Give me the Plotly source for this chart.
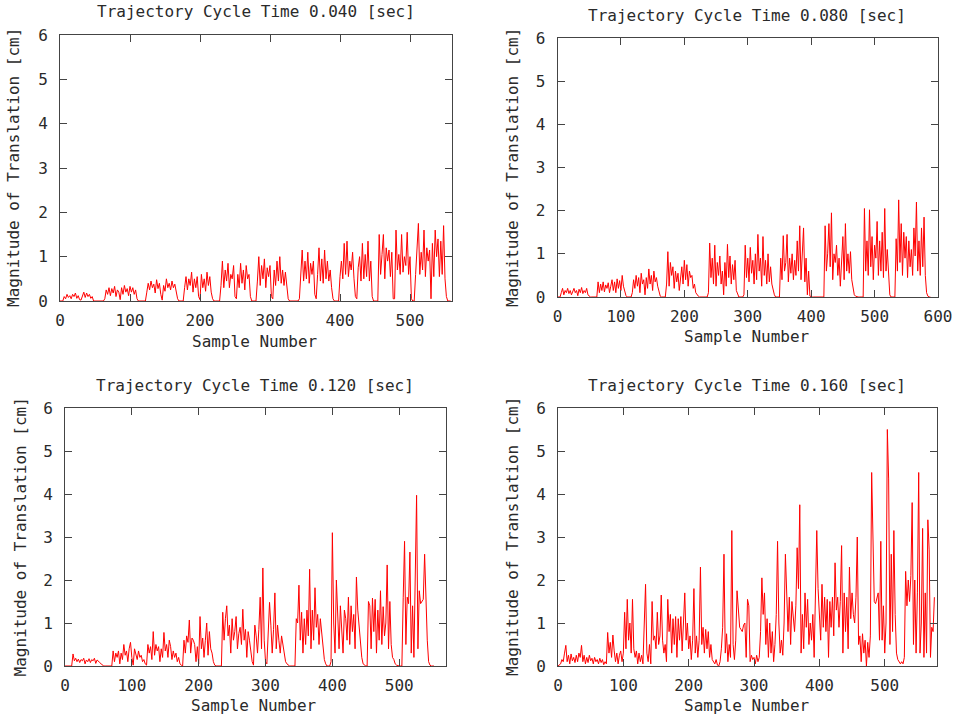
import plotly.graph_objects as go

W, H = 962, 715

titles = ["Trajectory Cycle Time 0.040 [sec]", "Trajectory Cycle Time 0.080 [sec]",
          "Trajectory Cycle Time 0.120 [sec]", "Trajectory Cycle Time 0.160 [sec]"]
x_label = "Sample Number"
y_label = "Magnitude of Translation [cm]"
x_ranges = [[0, 560], [0, 600], [0, 570], [0, 580]]
x_ticks = [[0, 100, 200, 300, 400, 500], [0, 100, 200, 300, 400, 500, 600],
           [0, 100, 200, 300, 400, 500], [0, 100, 200, 300, 400, 500]]
y_ticks = [0, 1, 2, 3, 4, 5, 6]
sample_step = 2  # one value read every second sample

p040 = [0, 0, 0,
        0.1, 0.05, 0.15, 0.08, 0.12, 0.05, 0.15, 0.1, 0.18, 0.06, 0.12, 0.03,
        0.02,
        0.12, 0.2, 0.08, 0.18, 0.1, 0.15, 0.06, 0.1,
        0, 0, 0, 0, 0, 0, 0, 0,
        0.05, 0.25, 0.15, 0.3, 0.12, 0.28, 0.18, 0.33, 0.1, 0.25, 0.2,
        0.03,
        0.3, 0.15, 0.35, 0.2, 0.28, 0.12, 0.33, 0.2, 0.3, 0.15, 0.25, 0.05,
        0, 0, 0, 0, 0, 0,
        0.2, 0.4, 0.25, 0.45, 0.3, 0.38, 0.18, 0.48, 0.28, 0.4, 0.15,
        0.02,
        0.35, 0.22, 0.5, 0.3, 0.4, 0.25, 0.45, 0.3, 0.38, 0.2, 0.05,
        0, 0, 0, 0,
        0.3, 0.55, 0.25, 0.5, 0.35, 0.65, 0.2, 0.5, 0.3, 0.55, 0.1,
        0.03,
        0.6, 0.3, 0.5, 0.22, 0.65, 0.35, 0.55, 0.2, 0.05,
        0, 0, 0, 0, 0,
        0.35, 0.9, 0.3, 0.7, 0.45, 0.85, 0.3, 0.6, 0.5, 0.8, 0.1,
        0.05,
        0.6, 0.3, 0.85, 0.4, 0.7, 0.25, 0.8, 0.5, 0.6, 0.1,
        0, 0, 0, 0,
        0.45, 1.0, 0.35, 0.8, 0.5, 0.95, 0.3, 0.75, 0.55, 0.8, 0.1,
        0.05,
        0.7, 0.35, 0.9, 0.45, 1.0, 0.4, 0.7, 0.35, 0.65, 0.3, 0.05,
        0, 0, 0, 0, 0, 0, 0,
        0.05, 0.65, 1.15, 0.45, 0.9, 0.5, 1.1, 0.4, 0.85, 0.6, 0.9, 0.15,
        0.05,
        0.6, 1.2, 0.45, 0.95, 0.4, 1.15, 0.5, 0.9, 0.45, 0.7, 0.3, 0.05,
        0, 0, 0, 0,
        0.55, 0.9, 0.5, 1.3, 0.6, 1.35, 0.55, 0.9, 0.7, 1.1, 0.5, 0.1,
        0.05,
        0.75, 1.0, 0.45, 1.3, 0.5, 1.05, 0.55, 1.35, 0.45, 0.9, 0.1,
        0, 0, 0, 0,
        1.5, 0.6, 1.05, 1.5, 0.5, 1.2, 0.9, 1.15, 0.55, 1.1, 0.05,
        0.05,
        1.6, 0.7, 1.05, 0.6, 1.5, 0.65, 1.0, 0.8, 1.55, 0.6, 1.0, 0.05,
        0, 0,
        0.6, 1.3, 1.75, 0.6, 1.1, 0.7, 1.6, 0.55, 1.2, 0.9, 1.15, 0.05,
        1.3, 0.55, 1.6, 1.0, 1.4, 0.55, 1.35, 0.6, 1.7, 0.5, 0.1,
        0, 0, 0]

p080 = [0, 0, 0,
        0.1, 0.2, 0.05, 0.15, 0.1, 0.2, 0.08, 0.15, 0.05, 0.12, 0.2, 0.1, 0.15, 0.03, 0.18, 0.1, 0.22,
        0.08, 0.15, 0.1, 0.2, 0.05, 0.02,
        0, 0, 0, 0, 0, 0,
        0.35, 0.1, 0.3, 0.15, 0.35, 0.12, 0.28, 0.2, 0.33, 0.1, 0.25, 0.4, 0.15, 0.35, 0.1, 0.42,
        0.2, 0.38, 0.15, 0.5, 0.25, 0.1, 0.03,
        0, 0, 0, 0,
        0.1, 0.4, 0.2, 0.5, 0.25, 0.45, 0.1, 0.55, 0.3, 0.4, 0.05, 0.45, 0.2, 0.65, 0.3, 0.5,
        0.15, 0.6, 0.35, 0.45, 0.25, 0.1, 0.02,
        0, 0, 0, 0,
        0.3, 1.05, 0.25, 0.8, 0.5, 0.7, 0.2, 0.6, 0.35, 0.55, 0.15, 0.45, 0.7, 0.3, 0.85, 0.4,
        0.75, 0.25, 0.6, 0.45, 0.5, 0.2, 0.3, 0.1, 0.05, 0.02,
        0, 0, 0, 0, 0, 0, 0,
        0.1, 1.25, 0.45, 0.9, 0.3, 1.2, 0.25, 0.8, 0.5, 0.95, 0.3, 0.6, 0.05, 0.8, 0.25, 1.22,
        0.45, 0.95, 0.3, 0.75, 0.4, 0.85, 0.15, 0.05,
        0, 0, 0, 0,
        0.05, 1.2, 0.45, 0.9, 0.35, 1.15, 0.55, 0.85, 0.3, 1.0, 0.4, 1.45, 0.6, 0.9, 0.25, 1.4,
        0.5, 0.85, 0.3, 1.0, 0.35, 0.7, 0.3, 0.15, 0.05,
        0, 0, 0, 0,
        0.9, 0.4, 1.42, 0.6, 0.8, 1.45, 0.35, 0.9, 0.55, 1.0, 0.4, 0.85, 0.5, 1.3, 0.6, 1.65,
        0.4, 0.9, 1.6, 0.35, 0.9, 0.05, 0.6, 0.02,
        0, 0, 0, 0, 0, 0, 0, 0, 0, 0, 0,
        1.65, 0.6, 1.0, 1.7, 0.7, 1.95, 0.4, 1.0, 0.8, 1.2, 0.5, 0.9, 0.25, 0.8, 1.4, 0.4,
        1.7, 0.6, 1.0, 0.55, 1.05, 0.4, 0.2, 0.05, 0.02,
        0, 0, 0, 0, 0, 0,
        2.05, 0.6, 1.3, 0.5, 2.02, 0.7, 1.4, 0.4, 1.2, 0.9, 1.75, 0.5, 1.3, 0.6, 1.5, 0.45,
        2.05, 0.6, 1.1, 0.4, 0.05,
        0, 0, 0, 0,
        1.35, 0.6, 2.25, 0.8, 1.7, 0.5, 1.5, 0.9, 1.4, 0.45, 1.3, 0.7, 1.1, 0.5, 1.6, 0.95,
        2.2, 0.6, 1.3, 0.5, 1.6, 0.7, 1.85, 0.5, 0.1, 0.02, 0.0,
        0]

p120 = [0, 0, 0, 0, 0, 0,
        0.28, 0.12, 0.18, 0.1, 0.16, 0.08, 0.15, 0.12, 0.18, 0.05, 0.14, 0.1, 0.17, 0.08, 0.15,
        0.12, 0.18, 0.06, 0.14, 0.1, 0.08, 0.05, 0.02,
        0, 0, 0, 0, 0, 0, 0,
        0.35, 0.1, 0.3, 0.2, 0.35, 0.05, 0.3, 0.15, 0.5, 0.25, 0.35, 0.1, 0.4, 0.55, 0.2, 0.02,
        0.4, 0.3, 0.15, 0.35, 0.2, 0.25, 0.1, 0.15, 0.05, 0.02,
        0.5, 0.3, 0.45, 0.15, 0.8, 0.25, 0.5, 0.35, 0.45, 0.1, 0.4, 0.2, 0.78, 0.35, 0.5, 0.2,
        0.6, 0.45, 0.15, 0.35, 0.2, 0.3, 0.1, 0.2, 0.05, 0.02,
        0,
        0.6, 0.3, 0.7, 0.55, 1.07, 0.3, 0.65, 0.6, 0.5, 0.1, 0.45, 0.05, 1.15, 0.4, 0.65, 0.2,
        0.6, 1.0, 0.25, 0.8, 0.4, 0.3, 0.1, 0.02,
        0, 0, 0, 0, 0,
        1.25, 0.6, 1.1, 1.4, 0.7, 0.95, 0.3, 1.1, 0.6, 0.8, 1.15, 0.4, 0.75, 0.9, 0.5, 1.32,
        0.6, 0.85, 0.2, 0.8, 0.6, 0.4, 0.1, 0.02,
        0.95, 0.7, 0.3, 0.85, 1.6, 0.4, 2.28, 0.6, 0.1, 0.05, 0.9, 1.48, 0.95, 0.3, 0.85, 1.7,
        0.4, 0.95, 0.6, 0.3, 0.7, 0.5, 0.2, 0.1, 0.05, 0.02, 0.0,
        0, 0, 0, 0,
        1.1, 1.0, 1.88, 0.6, 1.25, 0.3, 1.1, 0.5, 1.3, 0.7, 2.25, 0.4, 1.3, 0.6, 1.82, 0.9,
        1.2, 0.5, 1.1, 0.8, 0.4, 0.15, 0.05,
        0, 0, 0,
        0.1, 3.1, 1.0, 0.3, 2.0, 1.2, 0.4, 1.4, 0.8, 0.3, 1.3, 1.1, 0.6, 1.6, 0.5, 1.4,
        0.8, 1.2, 0.4, 2.07, 1.3, 0.9, 0.5, 0.2, 0.05, 0.02,
        0, 0,
        1.5, 1.4, 0.4, 1.58, 0.8, 1.55, 0.3, 1.3, 0.6, 1.75, 0.5, 1.38, 0.7, 1.0, 2.35, 0.4,
        1.5, 0.5, 0.2, 0.15, 0.05, 0.02, 0.0,
        0, 0, 0,
        1.6, 2.9, 0.5, 1.6, 1.45, 2.65, 0.3, 1.4, 0.2, 2.75, 3.97, 0.4, 1.75, 1.45, 1.5, 1.55,
        2.6, 1.55, 0.6, 0.1, 0.02,
        0, 0, 0]

p160 = [0.0, 0.02, 0.05,
        0.15, 0.1, 0.3, 0.48,
        0.1, 0.25, 0.05, 0.28, 0.12, 0.2, 0.08, 0.25, 0.1, 0.3, 0.2, 0.48,
        0.1, 0.25, 0.05, 0.2, 0.08, 0.25, 0.12, 0.18, 0.05, 0.2, 0.1, 0.15, 0.05, 0.18, 0.08,
        0.15, 0.03, 0.1, 0.05,
        0.78, 0.3, 0.55, 0.2, 0.72, 0.35, 0.1, 0.3, 0.05, 0.25, 0.35, 0.1, 0.3,
        1.25, 0.4, 1.55, 0.6, 1.0, 0.3, 1.55,
        0.4, 0.2, 0.35, 0.05, 0.3, 0.1, 0.25, 0.05, 0.8,
        1.9, 0.3, 0.1, 0.5, 0.05, 1.5, 0.6, 0.7, 0.4, 1.25, 0.5, 0.7, 1.65, 0.6,
        0.3, 0.5, 0.1, 1.55, 0.8, 1.2, 0.3, 1.1, 0.5, 1.15, 0.2, 1.1, 0.6, 1.15, 0.35, 1.0,
        1.7, 0.6, 1.0, 0.4, 0.7, 0.15, 0.6, 1.8, 0.3, 0.7, 0.2, 0.6, 2.3,
        0.5, 0.9, 0.3, 0.85, 0.4, 0.8, 0.2, 0.5,
        0.15, 0.1, 0.05, 0.15, 0.02, 0.0, 0.1, 0.4, 0.9,
        2.6, 0.3, 0.75, 0.1, 0.5, 0.2, 3.15, 0.5, 0.15,
        0.6, 1.75, 1.2, 0.9, 0.85, 0.8, 0.95, 1.0, 0.2, 1.55,
        1.4, 0.1, 0.25, 0.15, 0.2, 0.05, 0.25, 0.1, 0.2, 0.8,
        2.05, 1.2, 1.7, 0.5, 1.1, 0.2, 1.0, 0.3, 0.8, 0.1, 0.5, 1.2,
        2.9, 1.0, 0.3, 0.6, 0.25, 1.0,
        2.6, 1.5, 0.8, 1.6, 0.5, 1.5, 1.2, 0.8, 1.4, 2.75,
        1.8, 3.75, 0.3, 1.2, 0.4, 1.7, 0.9, 1.55, 0.5,
        1.0, 0.6, 1.2, 0.2, 1.5, 3.15,
        1.8, 1.0, 0.6, 1.9, 0.9, 1.6, 0.8, 1.55, 0.2, 1.5, 0.9, 1.6, 0.7, 2.4,
        1.3, 1.6, 0.9, 1.5, 2.8, 0.3, 1.7, 0.8, 1.6, 0.4, 2.3,
        1.1, 1.7, 1.2, 1.0, 1.6, 3.0,
        0.5, 0.7, 0.1, 0.75, 0.3, 0.6, 0.0, 0.55, 0.2, 0.7,
        4.5, 3.1, 1.5, 1.45, 1.6, 1.7, 0.6,
        2.9, 0.6, 1.4, 0.3, 1.0, 5.5,
        4.35, 0.5, 2.6, 0.8, 3.15, 1.2, 0.3,
        0.15, 0.1, 0.05, 0.1, 0.05, 0.2,
        2.2, 1.4, 2.0, 1.5, 2.1, 3.8, 0.5, 2.0, 0.3, 1.7, 4.5,
        0.3, 1.0, 3.2, 0.2, 1.7, 0.3, 3.4, 2.7, 0.2, 0.9, 0.8, 1.6]

series = [p040, p080, p120, p160]

# ---------------- layout (pixel boxes of the four plot areas) ----------------
boxes = [(60, 452, 35, 301), (557.5, 938, 38, 297), (65, 446, 408, 666), (558, 937, 408, 666)]
title_pos = [(256, 11.5), (747, 15.5), (255, 385.5), (747, 385.5)]
xlab_pos = [(255, 341), (747, 336), (254, 705), (747, 705)]
ylab_pos = [(13, 168), (512, 168), (19.5, 537), (512, 537)]

FONT = "DejaVu Sans Mono"
TXT = "#2a2a2a"
AX = "#444444"

fig = go.Figure()
layout = dict(width=W, height=H, margin=dict(l=0, r=0, t=0, b=0, pad=0), autosize=False,
              template="none",
              paper_bgcolor="white", plot_bgcolor="white", showlegend=False)

annotations = []
for i, vals in enumerate(series):
    n = i + 1
    xs = [k * sample_step for k in range(len(vals))]
    fig.add_trace(go.Scatter(x=xs, y=vals, mode="lines",
                             line=dict(color="#ff0000", width=1),
                             xaxis=f"x{n}", yaxis=f"y{n}", hoverinfo="skip"))
    l, r, t, b = boxes[i]
    common = dict(showline=True, linecolor=AX, linewidth=1, mirror="ticks",
                  ticks="inside", ticklen=7, tickwidth=1, tickcolor=AX,
                  showgrid=False, zeroline=False, automargin=False,
                  tickfont=dict(family=FONT, size=16, color=TXT))
    layout[f"xaxis{n}"] = dict(domain=[l / W, r / W], anchor=f"y{n}",
                               range=x_ranges[i], tickvals=x_ticks[i],
                               ticklabelstandoff=5, **common)
    layout[f"yaxis{n}"] = dict(domain=[1 - b / H, 1 - t / H], anchor=f"x{n}",
                               range=[0, 6], tickvals=y_ticks,
                               ticklabelstandoff=8, **common)
    tx, ty = title_pos[i]
    annotations.append(dict(text=titles[i], x=tx / W, y=1 - ty / H, xref="paper", yref="paper",
                            xanchor="center", yanchor="middle", showarrow=False,
                            font=dict(family=FONT, size=16, color=TXT)))
    xx, xy = xlab_pos[i]
    annotations.append(dict(text=x_label, x=xx / W, y=1 - xy / H, xref="paper", yref="paper",
                            xanchor="center", yanchor="middle", showarrow=False,
                            font=dict(family=FONT, size=16, color=TXT)))
    yx, yy = ylab_pos[i]
    annotations.append(dict(text=y_label, x=yx / W, y=1 - yy / H, xref="paper", yref="paper",
                            xanchor="center", yanchor="middle", showarrow=False, textangle=-90,
                            font=dict(family=FONT, size=16, color=TXT)))

layout["annotations"] = annotations
fig.update_layout(**layout)
# remove the browser's default 8px body margin so the figure fills the window exactly
fig.write_html("out.html", config={"displayModeBar": False},
               post_script="document.body.style.margin='0';")
